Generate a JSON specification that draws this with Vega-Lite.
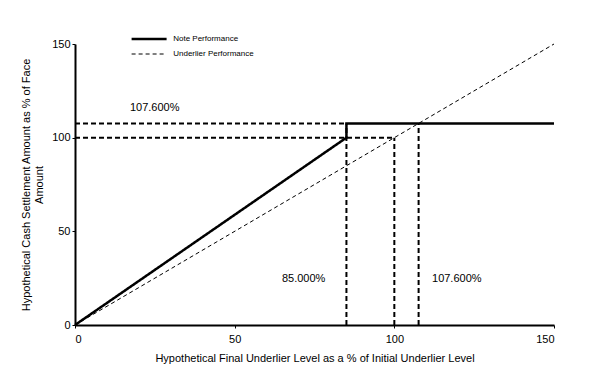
{
  "$schema": "https://vega.github.io/schema/vega-lite/v6.json",
  "width": 479,
  "height": 281,
  "autosize": {"type": "none"},
  "padding": {"left": 75, "top": 44, "right": 44, "bottom": 50},
  "background": "white",
  "config": {
    "view": {"stroke": null},
    "font": "Liberation Sans",
    "axis": {"grid": false, "domainColor": "black", "domainWidth": 2, "tickColor": "black", "tickSize": 3, "labelColor": "black", "labelFontSize": 11, "labelFont": "Liberation Sans", "titleFont": "Liberation Sans", "titleFontWeight": "normal", "titleFontSize": 11, "titleColor": "black"}
  },
  "datasets": {
    "perf": [
      {"series": "Note Performance", "x": 0, "y": 0, "o": 1},
      {"series": "Note Performance", "x": 85, "y": 100, "o": 2},
      {"series": "Note Performance", "x": 85, "y": 107.6, "o": 3},
      {"series": "Note Performance", "x": 150, "y": 107.6, "o": 4},
      {"series": "Underlier Performance", "x": 0, "y": 0, "o": 1},
      {"series": "Underlier Performance", "x": 150, "y": 150, "o": 2}
    ],
    "refs": [
      {"x": 0, "x2": 85, "y": 107.6, "y2": 107.6},
      {"x": 0, "x2": 100, "y": 100, "y2": 100},
      {"x": 85, "x2": 85, "y": 0, "y2": 107.6},
      {"x": 100, "x2": 100, "y": 0, "y2": 100},
      {"x": 107.6, "x2": 107.6, "y": 0, "y2": 107.6}
    ],
    "labels": [
      {"x": 17.2, "y": 116.1, "text": "107.600%"},
      {"x": 64.8, "y": 24.6, "text": "85.000%"},
      {"x": 111.8, "y": 24.6, "text": "107.600%"}
    ]
  },
  "layer": [
    {
      "data": {"name": "refs"},
      "mark": {"type": "rule", "color": "black", "strokeWidth": 2, "strokeDash": [5, 3]},
      "encoding": {
        "x": {"field": "x", "type": "quantitative", "scale": {"domain": [0, 150], "nice": false}, "axis": {"values": [0, 50, 100, 150], "title": "Hypothetical Final Underlier Level as a % of Initial Underlier Level", "titlePadding": 8, "labelPadding": 5}},
        "x2": {"field": "x2"},
        "y": {"field": "y", "type": "quantitative", "scale": {"domain": [0, 150], "nice": false}, "axis": {"values": [0, 50, 100, 150], "title": ["Hypothetical Cash Settlement Amount as % of Face", "Amount"], "titlePadding": 7}},
        "y2": {"field": "y2"}
      }
    },
    {
      "data": {"name": "perf"},
      "mark": {"type": "line", "color": "black", "clip": false},
      "encoding": {
        "x": {"field": "x", "type": "quantitative"},
        "y": {"field": "y", "type": "quantitative"},
        "order": {"field": "o"},
        "strokeDash": {"field": "series", "type": "nominal", "scale": {"domain": ["Note Performance", "Underlier Performance"], "range": [[1, 0], [4, 3]]}, "legend": {"title": null, "orient": "none", "legendX": 50.6, "legendY": -11, "symbolType": "M0,0H8", "symbolSize": 76.6, "symbolStrokeColor": "black", "labelFontSize": 8, "labelColor": "black", "labelFont": "Liberation Sans", "labelOffset": 35.6, "rowPadding": 5, "padding": 0}},
        "strokeWidth": {"field": "series", "type": "nominal", "scale": {"domain": ["Note Performance", "Underlier Performance"], "range": [2.5, 1]}, "legend": {"title": null, "orient": "none", "legendX": 50.6, "legendY": -11, "symbolType": "M0,0H8", "symbolSize": 76.6, "labelFontSize": 8, "labelColor": "black", "labelOffset": 35.6, "rowPadding": 5, "padding": 0}}
      }
    },
    {
      "data": {"name": "labels"},
      "mark": {"type": "text", "align": "left", "baseline": "middle", "fontSize": 11, "color": "black", "font": "Liberation Sans"},
      "encoding": {
        "x": {"field": "x", "type": "quantitative"},
        "y": {"field": "y", "type": "quantitative"},
        "text": {"field": "text"}
      }
    }
  ]
}
